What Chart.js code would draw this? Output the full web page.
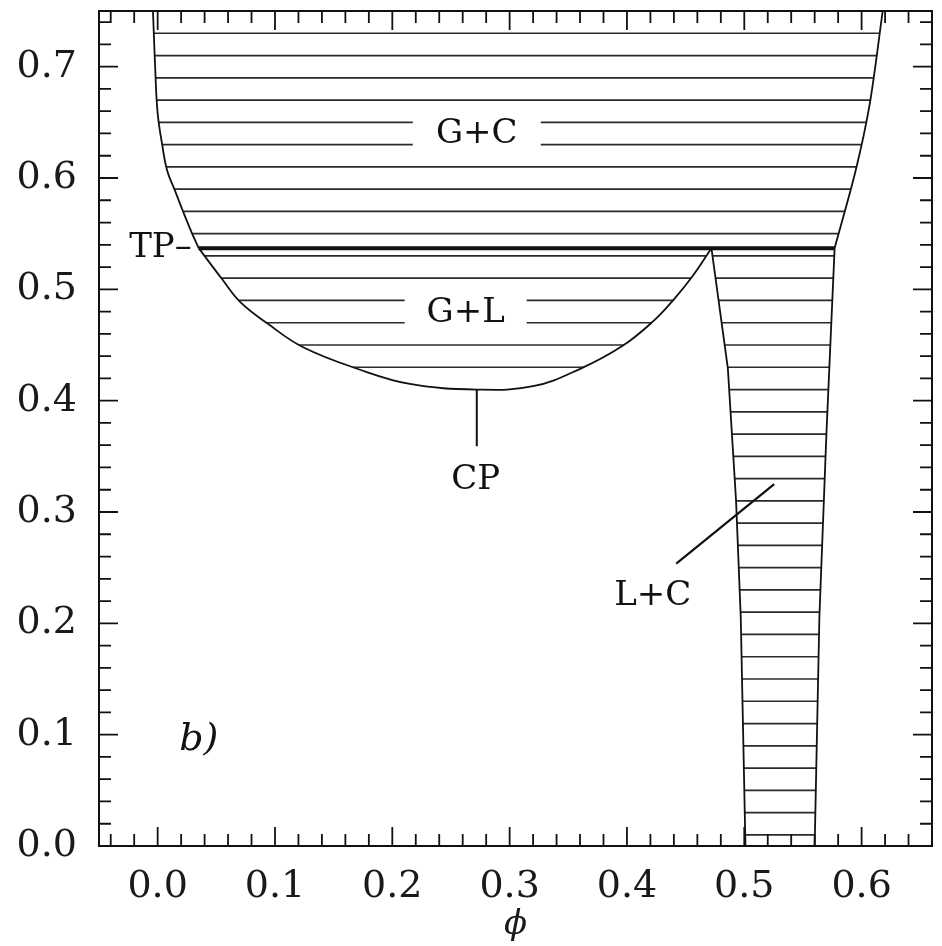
<!DOCTYPE html>
<html>
<head>
<meta charset="utf-8">
<script src="https://cdn.jsdelivr.net/npm/chart.js@4/dist/chart.umd.min.js"></script>
<style>
  body { margin: 0; background: #fff; }
  #wrap { width: 942px; height: 946px; }
</style>
</head>
<body>
<div id="wrap"><canvas id="phase-chart"></canvas></div>
<script>
const xTicks = [0.0, 0.1, 0.2, 0.3, 0.4, 0.5, 0.6];
const yTicks = [0.0, 0.1, 0.2, 0.3, 0.4, 0.5, 0.6, 0.7];

// gas + crystal boundaries (left one from top down to TP, right one from TP up)
const gcLeftX = [-0.004, -0.002, 0.0, 0.004, 0.008, 0.015, 0.022, 0.029, 0.035];
const gcLeftY = [0.75, 0.696, 0.658, 0.629, 0.607, 0.588, 0.569, 0.551, 0.537];
const gcRightX = [0.577, 0.595, 0.607, 0.618];
const gcRightY = [0.537, 0.607, 0.667, 0.75];

// gas + liquid coexistence curve
const glX = [0.035, 0.055, 0.070, 0.094, 0.124, 0.172, 0.215, 0.272, 0.320, 0.361, 0.396, 0.422, 0.440, 0.456, 0.472];
const glY = [0.537, 0.509, 0.489, 0.469, 0.448, 0.428, 0.415, 0.410, 0.413, 0.429, 0.449, 0.471, 0.491, 0.512, 0.537];

// liquid + crystal
const lcLeftX = [0.472, 0.486, 0.493, 0.497, 0.501];
const lcLeftY = [0.537, 0.429, 0.310, 0.205, 0.0];
const lcRightX = [0.577, 0.570, 0.564, 0.560];
const lcRightY = [0.537, 0.370, 0.205, 0.0];

// triple point line
const tpX = [0.035, 0.577];
const tpLevel = 0.537;

// tie lines
const hatchGC = [0.55, 0.57, 0.59, 0.61, 0.63, 0.65, 0.67, 0.69, 0.71, 0.73];
const hatchGL = [0.43, 0.45, 0.47, 0.49, 0.51, 0.53];
const hatchLC = [0.01, 0.03, 0.05, 0.07, 0.09, 0.11, 0.13, 0.15, 0.17, 0.19, 0.21, 0.23, 0.25,
                 0.27, 0.29, 0.31, 0.33, 0.35, 0.37, 0.39, 0.41, 0.43, 0.45, 0.47, 0.49, 0.51, 0.53];

// pointers
const cpLineX = [0.272, 0.272];
const cpLineY = [0.410, 0.359];
const lcPointerX = [0.442, 0.5255];
const lcPointerY = [0.2536, 0.325];

const labelText = ['G+C', 'G+L', 'CP', 'L+C'];
const labelX = [0.272, 0.2625, 0.271, 0.422];
const labelY = [0.639, 0.479, 0.329, 0.224];

const serif = "'DejaVu Serif', 'Liberation Serif', serif";

function toPoints(xs, ys) {
    return xs.map((v, i) => ({ x: v, y: ys[i] }));
}

function lineSet(xs, ys, width, tension) {
    return {
        data: toPoints(xs, ys),
        showLine: true,
        borderColor: '#111',
        borderWidth: width,
        pointRadius: 0,
        fill: false,
        tension: tension
    };
}

const phasePlugin = {
    id: 'phase',
    beforeDatasetsDraw(chart) {
        const { ctx, chartArea, scales: { x, y } } = chart;
        function hatch(xs, ys, levels) {
            ctx.save();
            ctx.beginPath();
            xs.forEach((v, i) => {
                const px = x.getPixelForValue(v), py = y.getPixelForValue(ys[i]);
                if (i === 0) ctx.moveTo(px, py); else ctx.lineTo(px, py);
            });
            ctx.closePath();
            ctx.clip();
            ctx.strokeStyle = '#2a2a2a';
            ctx.lineWidth = 1.7;
            levels.forEach(l => {
                const py = y.getPixelForValue(l);
                ctx.beginPath();
                ctx.moveTo(chartArea.left, py);
                ctx.lineTo(chartArea.right, py);
                ctx.stroke();
            });
            ctx.restore();
        }
        hatch(gcLeftX.concat(gcRightX), gcLeftY.concat(gcRightY), hatchGC);
        hatch(glX, glY, hatchGL);
        hatch(lcLeftX.concat([...lcRightX].reverse()), lcLeftY.concat([...lcRightY].reverse()), hatchLC);
    },
    afterDatasetsDraw(chart) {
        const { ctx, scales: { x, y } } = chart;
        const boxes = [[128, 54], [122, 40], null, null];
        ctx.save();
        ctx.font = '34px ' + serif;
        ctx.textAlign = 'center';
        ctx.textBaseline = 'middle';
        labelText.forEach((t, i) => {
            const px = x.getPixelForValue(labelX[i]), py = y.getPixelForValue(labelY[i]);
            if (boxes[i]) {
                ctx.fillStyle = '#fff';
                ctx.fillRect(px - boxes[i][0] / 2, py - boxes[i][1] / 2, boxes[i][0], boxes[i][1]);
            }
            ctx.fillStyle = '#111';
            ctx.fillText(t, px, py);
        });
        // TP marker
        ctx.textAlign = 'right';
        ctx.fillText('TP\u2013', x.getPixelForValue(0.029), y.getPixelForValue(tpLevel));
        // panel label
        ctx.font = 'italic 38px ' + serif;
        ctx.textAlign = 'center';
        ctx.fillText('b)', x.getPixelForValue(0.035), y.getPixelForValue(0.095));
        ctx.restore();
    },
    afterDraw(chart) {
        const { ctx, chartArea: a, scales: { x, y } } = chart;
        ctx.save();
        ctx.strokeStyle = '#111';
        ctx.lineWidth = 2;
        ctx.strokeRect(a.left, a.top, a.right - a.left, a.bottom - a.top);
        ctx.lineWidth = 1.8;
        ctx.beginPath();
        for (let k = -2; k <= 33; k++) {
            const px = x.getPixelForValue(k * 0.02);
            if (px <= a.left + 1 || px >= a.right - 1) continue;
            const len = k % 5 === 0 ? 19 : 12;
            ctx.moveTo(px, a.bottom); ctx.lineTo(px, a.bottom - len);
            ctx.moveTo(px, a.top); ctx.lineTo(px, a.top + len);
        }
        for (let k = 1; k <= 37; k++) {
            const py = y.getPixelForValue(k * 0.02);
            if (py <= a.top + 1) continue;
            const len = k % 5 === 0 ? 19 : 12;
            ctx.moveTo(a.left, py); ctx.lineTo(a.left + len, py);
            ctx.moveTo(a.right, py); ctx.lineTo(a.right - len, py);
        }
        ctx.stroke();
        ctx.restore();
    }
};

const tickFont = { family: serif, size: 38 };

new Chart(document.getElementById('phase-chart').getContext('2d'), {
    type: 'scatter',
    data: {
        datasets: [
            lineSet(gcLeftX, gcLeftY, 1.8, 0.4),
            lineSet(gcRightX, gcRightY, 1.8, 0.3),
            lineSet(glX, glY, 1.8, 0.4),
            lineSet(lcLeftX, lcLeftY, 1.8, 0),
            lineSet(lcRightX, lcRightY, 1.8, 0),
            lineSet(tpX, [tpLevel, tpLevel], 4, 0),
            lineSet(cpLineX, cpLineY, 2, 0),
            lineSet(lcPointerX, lcPointerY, 2.2, 0)
        ]
    },
    options: {
        responsive: true,
        maintainAspectRatio: false,
        animation: false,
        layout: { padding: { top: 11, right: 10, left: 0, bottom: 0 } },
        plugins: { legend: { display: false }, tooltip: { enabled: false } },
        scales: {
            x: {
                type: 'linear',
                min: -0.05,
                max: 0.66,
                grid: { display: false },
                border: { display: false },
                afterBuildTicks: scale => { scale.ticks = xTicks.map(v => ({ value: v })); },
                afterFit: scale => {
                    scale.height = 100;
                    scale.paddingLeft = 0;
                    scale.paddingRight = 0;
                },
                ticks: {
                    font: tickFont,
                    color: '#1a1a1a',
                    padding: 10,
                    maxRotation: 0,
                    callback: v => v.toFixed(1)
                },
                title: {
                    display: true,
                    text: '\u03D5',
                    color: '#1a1a1a',
                    font: { family: serif, size: 34, style: 'italic' },
                    padding: { top: 0, bottom: 0 }
                }
            },
            y: {
                type: 'linear',
                min: 0,
                max: 0.75,
                grid: { display: false },
                border: { display: false },
                afterBuildTicks: scale => { scale.ticks = yTicks.map(v => ({ value: v })); },
                afterFit: scale => {
                    scale.width = 99;
                    scale.paddingTop = 0;
                    scale.paddingBottom = 0;
                },
                ticks: {
                    font: tickFont,
                    color: '#1a1a1a',
                    padding: 14,
                    callback: v => v.toFixed(1)
                }
            }
        }
    },
    plugins: [phasePlugin]
});
</script>
</body>
</html>
